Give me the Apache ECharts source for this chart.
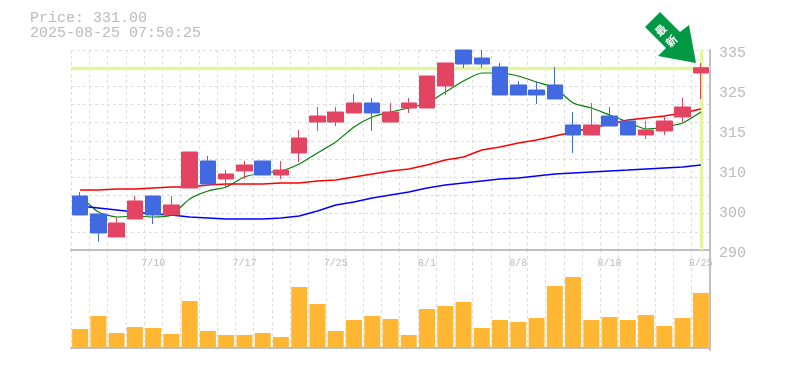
<!DOCTYPE html>
<html>
<head>
<meta charset="utf-8">
<style>html,body{margin:0;padding:0;background:#fff}#chart{width:785px;height:370px}</style>
<script src="https://cdn.jsdelivr.net/npm/echarts@6/dist/echarts.min.js"></script>
</head>
<body>
<div id="chart"></div>
<script>
var dates = ['7/4','7/7','7/8','7/9','7/10','7/11','7/14','7/15','7/16','7/17','7/18','7/22','7/23','7/24','7/25','7/28','7/29','7/30','7/31','8/1','8/4','8/5','8/6','8/7','8/8','8/12','8/13','8/14','8/15','8/18','8/19','8/20','8/21','8/22','8/25'];
// open, close, low, high
var ohlc = [
  [302.15,297.88,297.88,303.05],[298.1,293.83,291.87,298.1],[292.93,296.08,292.93,297.36],[296.98,301.03,296.98,302.15],[302.15,297.88,295.85,302.15],
  [297.88,300.13,297.88,302.15],[303.95,312.05,303.95,312.05],[310.03,304.85,304.85,311.15],[305.98,307.1,304.11,308],[307.78,309.13,305.98,310.03],
  [310.03,306.88,306.88,310.03],[306.88,308,305.98,310.03],[311.83,315.2,309.8,317],[318.8,320.15,316.78,322.18],[318.8,321.05,317.9,322.18],
  [320.83,323.08,320.83,325.1],[323.08,320.83,316.78,324.2],[318.8,321.05,318.8,323.08],[321.95,323.08,320.83,324.2],[321.95,329.15,321.95,329.15],
  [326.9,332.08,324.88,332.08],[335,331.85,330.95,335],[333.2,331.85,330.95,335],[331.18,324.88,324.88,332.08],[327.13,324.88,324.88,328.03],
  [326,324.88,322.85,327.8],[327.13,323.98,323.98,331.18],[318.13,315.88,311.83,321.05],[315.88,318.13,315.88,323.08],[320.15,317.9,317.9,322.18],
  [319.03,315.88,315.88,319.03],[315.88,317,314.98,319.03],[316.78,319.03,315.88,320.38],[319.93,322.18,318.8,324.2],[329.83,331,323.98,332.08]
];
var maShort = [302.15,298.55,297.43,297.65,297.43,297.88,301.48,303.28,304.18,306.43,307.33,307.78,309.35,311.83,314.3,317.68,319.93,321.05,321.95,323.08,325.55,328.03,329.83,329.83,329.15,327.8,326.45,323.08,321.95,320.38,318.8,317.23,317.68,318.58,321.05];
var maMid = [303.5,303.5,303.73,303.73,303.95,304.18,304.18,304.63,304.85,304.85,304.85,305.08,305.08,305.53,305.75,306.43,307.1,307.78,308.23,309.13,310.25,310.93,312.5,313.18,314.08,314.75,315.65,316.55,317.45,318.35,319.25,319.7,320.15,320.83,321.73];
var maLong = [299.9,299.45,299,298.55,298.1,297.88,297.43,297.2,296.98,296.98,296.98,297.2,297.65,298.78,300.13,300.8,301.7,302.38,303.05,303.95,304.63,305.08,305.53,305.98,306.2,306.65,307.1,307.33,307.55,307.78,308,308.23,308.45,308.68,309.13];
var volumes = [19,32,15,21,20,14,47,17,13,13,15,11,61,44,17,28,32,29,13,39,42,46,20,28,26,30,62,71,28,31,28,33,22,30,55];
var priceLabels = ['290','300','310','315','325','335'];
var lastPrice = 331.0;

var mono = '"Liberation Mono", monospace';
var gridColor = '#dddddd';
var borderColor = '#c0c0c0';
var textColor = '#bbbbbb';

var myChart = echarts.init(document.getElementById('chart'), null, { renderer: 'canvas' });
myChart.setOption({
  animation: false,
  title: {
    text: 'Price: 331.00\n2025-08-25 07:50:25',
    left: 30,
    top: 11,
    padding: 0,
    textStyle: { fontFamily: mono, fontSize: 15, fontWeight: 'normal', color: textColor, lineHeight: 15 }
  },
  grid: [
    { left: 71, right: 75, top: 50, height: 200 },
    { left: 71, right: 75, top: 250, height: 100 }
  ],
  xAxis: [
    {
      type: 'category', gridIndex: 0, data: dates,
      axisTick: { show: false },
      axisLine: { lineStyle: { color: borderColor, width: 2 } },
      axisLabel: {
        interval: function (i) { return i % 5 === 4 },
        fontFamily: mono, fontSize: 10, color: textColor, margin: 8
      },
      splitLine: { show: true, interval: 0, lineStyle: { color: gridColor, type: [3, 3] } }
    },
    {
      type: 'category', gridIndex: 1, data: dates,
      axisTick: { show: false },
      axisLine: { lineStyle: { color: borderColor, width: 2 } },
      axisLabel: { show: false },
      splitLine: { show: true, interval: 0, lineStyle: { color: gridColor, type: [3, 3] } }
    }
  ],
  yAxis: [
    // price scale, drives the marks
    { type: 'value', gridIndex: 0, min: 290, max: 335, show: false, splitLine: { show: false } },
    // the dashed rows, 11 of them
    {
      type: 'value', gridIndex: 0, min: 0, max: 11, interval: 1,
      axisLine: { show: false }, axisTick: { show: false }, axisLabel: { show: false },
      splitLine: { show: true, lineStyle: { color: gridColor, type: [3, 3] } }
    },
    // tick labels, every 40px
    {
      type: 'value', gridIndex: 0, min: 0, max: 5, interval: 1, position: 'right',
      axisLine: { show: true, lineStyle: { color: borderColor, width: 2 } },
      axisTick: { show: false },
      splitLine: { show: false },
      axisLabel: {
        margin: 9, fontFamily: mono, fontSize: 15, color: textColor, verticalAlign: 'top', lineHeight: 7,
        formatter: function (v) { return priceLabels[v] }
      }
    },
    {
      type: 'value', gridIndex: 1, min: -2, max: 98, position: 'right',
      axisLine: { show: true, onZero: false, lineStyle: { color: borderColor, width: 2 } },
      axisTick: { show: false }, axisLabel: { show: false }, splitLine: { show: false }
    }
  ],
  series: [
    {
      name: 'MA short', type: 'line', xAxisIndex: 0, yAxisIndex: 0, data: maShort, symbol: 'none', smooth: 0.2,
      lineStyle: { color: '#008000', width: 1.2 }, z: 3
    },
    {
      name: 'MA mid', type: 'line', xAxisIndex: 0, yAxisIndex: 0, data: maMid, symbol: 'none',
      lineStyle: { color: '#ff0000', width: 1.4 }, z: 3
    },
    {
      name: 'MA long', type: 'line', xAxisIndex: 0, yAxisIndex: 0, data: maLong, symbol: 'none',
      lineStyle: { color: '#0000ff', width: 1.4 }, z: 3
    },
    {
      name: 'Price', type: 'candlestick', xAxisIndex: 0, yAxisIndex: 0, data: ohlc, barWidth: 16, z: 4,
      itemStyle: { color: '#e24462', color0: '#4169e1', borderColor: '#e24462', borderColor0: '#4169e1', borderWidth: 1 },
      markLine: {
        silent: true, symbol: 'none', label: { show: false }, animation: false, z: 2,
        lineStyle: { color: '#e2f6a0', width: 3.4, type: 'solid', opacity: 1 },
        data: [{ yAxis: lastPrice }, { xAxis: dates[dates.length - 1] }]
      }
    },
    {
      name: 'Volume', type: 'bar', xAxisIndex: 1, yAxisIndex: 3, data: volumes, barWidth: 16,
      itemStyle: { color: '#ffb733' }
    }
  ],
  graphic: [
    {
      type: 'polygon', z: 10,
      shape: { points: [[660, 12], [680, 32], [689, 25], [696, 63], [658, 56], [666, 48], [645, 27]] },
      style: { fill: '#009a44' }
    },
    {
      type: 'text', z: 11, x: 666, y: 35.5, rotation: Math.PI / 4,
      style: { text: '最\n新', fill: '#fff', font: 'bold 11px "Noto Sans CJK JP"', lineHeight: 15, align: 'center', verticalAlign: 'middle' }
    }
  ]
});
</script>
</body>
</html>
